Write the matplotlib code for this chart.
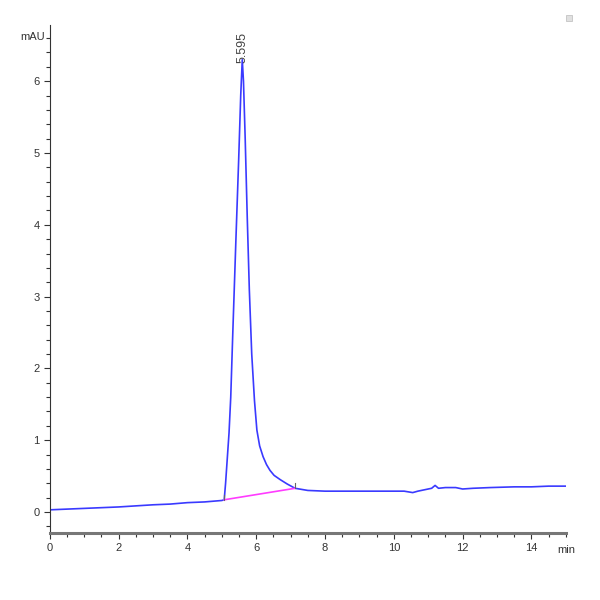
import matplotlib
matplotlib.use("Agg")
import matplotlib.pyplot as plt
from matplotlib.ticker import MultipleLocator
from matplotlib.patches import Rectangle

# chromatogram trace (min, mAU)
t_min = [0.0, 0.5, 1.0, 1.5, 2.0, 2.5, 3.0, 3.5, 4.0, 4.5, 5.0, 5.07,
         5.11, 5.16, 5.21, 5.26, 5.32, 5.41, 5.49, 5.55, 5.595, 5.63, 5.68,
         5.74, 5.80, 5.87, 5.95, 6.02, 6.10, 6.20, 6.30, 6.40, 6.52, 6.70,
         6.90, 7.13, 7.50,
         8.0, 8.5, 9.0, 9.5, 10.0, 10.3, 10.55, 10.7, 10.9, 11.1, 11.2,
         11.3, 11.5, 11.8, 12.0, 12.3, 12.8, 13.5, 14.0, 14.5, 15.0]
mau = [0.03, 0.04, 0.05, 0.06, 0.07, 0.085, 0.10, 0.11, 0.13, 0.14, 0.16, 0.17,
       0.40, 0.75, 1.10, 1.60, 2.50, 3.79, 4.90, 5.80, 6.30, 6.00, 5.20,
       4.10, 3.10, 2.20, 1.55, 1.14, 0.92, 0.77, 0.66, 0.58, 0.51, 0.45,
       0.39, 0.33, 0.30,
       0.29, 0.29, 0.29, 0.29, 0.29, 0.29, 0.27, 0.29, 0.31, 0.33, 0.37,
       0.33, 0.34, 0.34, 0.32, 0.33, 0.34, 0.35, 0.35, 0.36, 0.36]

# integration baseline under the peak
base_t = [5.07, 7.13]
base_v = [0.17, 0.33]

peak_rt = 5.595
peak_h = 6.30

plt.rcParams['font.family'] = ['Liberation Sans Narrow', 'Liberation Sans', 'DejaVu Sans']

fig = plt.figure(figsize=(6, 6), dpi=100)
ax = fig.add_axes([0.083, 0.112, 0.86, 0.846])

ax.plot(t_min, mau, color='#3a3aff', lw=1.2)
ax.plot(base_t, base_v, color='#ff3cff', lw=1.2)
# start/end markers of the integrated peak
for bt, bv in zip(base_t, base_v):
    ax.plot([bt, bt], [bv, bv + 0.07], color='#666666', lw=0.8)

ax.text(peak_rt, peak_h - 0.05, '%.3f' % peak_rt, rotation=90, ha='center', va='bottom',
        fontsize=9, color='#444444')

ax.set_xlim(0, 15)
ax.set_ylim(-0.29, 6.78)

ax.spines['top'].set_visible(False)
ax.spines['right'].set_visible(False)
ax.spines['left'].set_color('#333333')
ax.spines['left'].set_linewidth(0.8)
ax.spines['bottom'].set_color('#777777')
ax.spines['bottom'].set_linewidth(2.2)

ax.xaxis.set_major_locator(MultipleLocator(2))
ax.xaxis.set_minor_locator(MultipleLocator(0.5))
ax.yaxis.set_major_locator(MultipleLocator(1))
ax.yaxis.set_minor_locator(MultipleLocator(0.2))
ax.tick_params(which='both', direction='out', color='#333333', width=0.8,
               labelsize=8, labelcolor='#333333')
ax.tick_params(which='major', length=4)
ax.tick_params(which='minor', length=3)

fig.text(0.075, 0.938, 'mAU', fontsize=8, color='#333333', ha='right', va='center')
fig.text(0.928, 0.083, 'min', fontsize=8, color='#333333', ha='left', va='center')
fig.patches.append(Rectangle((0.944, 0.965), 0.01, 0.01, transform=fig.transFigure,
                             facecolor='#e0e0e0', edgecolor='#bbbbbb', lw=0.5))

fig.savefig('out.png', dpi=100, facecolor='white')
